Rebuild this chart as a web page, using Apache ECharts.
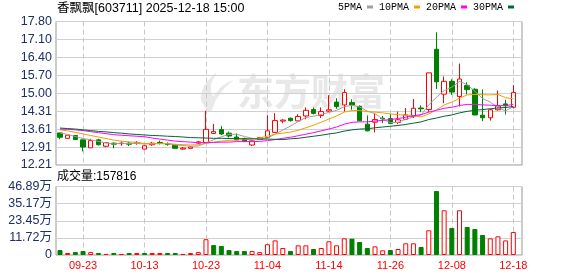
<!DOCTYPE html>
<html><head><meta charset="utf-8">
<script src="https://cdn.jsdelivr.net/npm/echarts@6/dist/echarts.min.js"></script>
<style>html,body{margin:0;padding:0;background:#fff}#c{width:578px;height:276px}</style>
</head><body><div id="c"></div>
<script>
const dates = ['09-18','09-19','09-22','09-23','09-24','09-25','09-26','09-29','09-30','10-09',
 '10-10','10-13','10-14','10-15','10-16','10-17','10-20','10-21','10-22','10-23',
 '10-24','10-27','10-28','10-29','10-30','10-31','11-03','11-04','11-05','11-06',
 '11-07','11-10','11-11','11-12','11-13','11-14','11-17','11-18','11-19','11-20',
 '11-21','11-24','11-25','11-26','11-27','11-28','12-01','12-02','12-03','12-04',
 '12-05','12-08','12-09','12-10','12-11','12-12','12-15','12-16','12-17','12-18'];
const opens = [13.46,13.25,13.36,13.19,12.88,13.19,12.94,13.06,13.04,13.06,13.05,12.83,13.00,13.09,13.04,12.99,12.83,12.86,13.06,13.09,
 13.44,13.59,13.45,13.30,13.24,12.99,13.21,13.28,13.48,13.92,14.03,13.93,14.12,14.37,14.14,14.31,14.66,14.55,14.64,14.49,
 13.80,13.88,14.03,14.02,13.87,13.99,14.10,14.43,14.37,16.72,14.97,15.47,14.88,15.31,15.16,14.15,14.05,14.36,14.59,14.46];
const closes = [13.29,13.37,13.20,12.91,13.16,13.00,13.08,13.02,13.06,13.02,13.09,12.96,13.06,13.07,13.01,12.86,12.87,12.91,13.11,13.60,
 13.51,13.42,13.34,13.19,13.14,13.15,13.28,13.54,13.94,13.96,13.94,14.10,14.34,14.22,14.29,14.36,14.49,15.03,14.55,13.93,
 13.54,13.98,14.01,13.83,13.97,14.16,14.42,14.40,15.80,15.45,15.47,15.05,15.56,15.15,14.16,14.05,14.36,14.51,14.52,15.03];
const lows = [13.21,13.24,13.18,12.74,12.87,12.97,12.90,12.86,12.96,12.95,13.00,12.82,12.96,13.01,12.96,12.85,12.80,12.85,13.04,13.05,
 13.42,13.38,13.28,13.17,13.12,12.95,13.20,13.26,13.46,13.84,13.90,13.92,13.99,14.18,14.04,14.29,14.40,14.29,14.36,13.92,
 13.52,13.48,13.84,13.80,13.80,13.97,14.04,14.27,14.27,15.17,14.62,14.94,14.49,14.96,14.15,13.92,13.94,14.33,14.18,14.41];
const highs = [13.46,13.37,13.37,13.19,13.23,13.23,13.10,13.09,13.13,13.11,13.14,12.99,13.11,13.16,13.09,13.01,12.91,12.94,13.15,14.32,
 13.81,13.72,13.51,13.44,13.27,13.17,13.30,14.15,14.23,13.99,14.06,14.19,14.45,14.45,14.45,14.93,14.81,15.16,14.77,14.53,
 14.14,14.23,14.12,14.19,14.29,14.43,14.78,14.53,15.80,17.38,15.66,15.55,16.16,15.43,15.20,15.15,14.40,15.11,14.75,15.32];
const volumes = [34000,14000,20000,27000,20000,14000,7000,14000,7000,14000,14000,14000,14000,14000,14000,14000,7000,14000,20000,108000,
 68000,62000,34000,27000,27000,27000,20000,74000,100000,48000,27000,66000,66000,41000,48000,94000,66000,114000,112000,89000,
 48000,59000,32000,34000,41000,80000,80000,55000,169000,438000,306000,185000,306000,192000,178000,137000,114000,128000,100000,157816];
const ma5 = [13.46,13.40,13.32,13.24,13.19,13.13,13.07,13.03,13.06,13.04,13.05,13.03,13.04,13.04,13.04,12.99,12.97,12.94,12.95,13.07,
 13.20,13.31,13.40,13.41,13.32,13.25,13.22,13.26,13.41,13.57,13.73,13.90,14.06,14.11,14.18,14.26,14.34,14.48,14.54,14.47,
 14.31,14.21,14.00,13.86,13.87,13.99,14.08,14.16,14.55,14.85,15.11,15.24,15.47,15.34,15.08,14.80,14.66,14.45,14.32,14.49];
const ma10 = [13.58,13.54,13.48,13.42,13.36,13.30,13.24,13.18,13.14,13.11,13.09,13.05,13.04,13.05,13.04,13.02,13.00,12.99,13.00,13.05,
 13.10,13.14,13.17,13.18,13.20,13.22,13.27,13.33,13.41,13.45,13.49,13.56,13.66,13.76,13.88,14.00,14.12,14.27,14.33,14.33,
 14.29,14.27,14.24,14.20,14.17,14.15,14.14,14.08,14.20,14.36,14.55,14.66,14.81,14.94,14.96,14.95,14.94,14.96,14.83,14.79];
const ma20 = [13.61,13.60,13.58,13.55,13.51,13.47,13.43,13.39,13.37,13.35,13.33,13.31,13.26,13.22,13.18,13.14,13.12,13.10,13.08,13.08,
 13.09,13.10,13.10,13.12,13.12,13.12,13.13,13.16,13.20,13.25,13.29,13.35,13.41,13.47,13.54,13.61,13.69,13.80,13.87,13.89,
 13.89,13.92,13.95,13.98,14.02,14.07,14.13,14.17,14.27,14.34,14.42,14.46,14.53,14.57,14.57,14.55,14.54,14.52,14.52,14.57];
const ma30 = [13.65,13.63,13.61,13.58,13.55,13.52,13.50,13.47,13.45,13.42,13.40,13.38,13.36,13.35,13.33,13.32,13.30,13.28,13.27,13.26,
 13.25,13.25,13.24,13.24,13.23,13.23,13.22,13.22,13.21,13.20,13.23,13.25,13.29,13.33,13.37,13.42,13.46,13.53,13.58,13.61,
 13.62,13.66,13.69,13.72,13.75,13.79,13.84,13.89,13.98,14.04,14.11,14.16,14.24,14.30,14.34,14.37,14.40,14.43,14.45,14.49];
const priceTicks = ['12.21','12.91','13.61','14.31','15.00','15.70','16.40','17.10','17.80'];
const volTicks = ['0','11.72万','23.45万','35.17万','46.89万'];
const dateTicks = ['09-23','10-13','10-23','11-04','11-14','11-26','12-08','12-18'];
const volMaxValue = 468900;
const titleText = '香飘飘[603711] 2025-12-18 15:00';
const volTitle = '成交量:157816';

const UP = '#ff0000', DOWN = '#008000';
const priceMin = parseFloat(priceTicks[0]), priceMax = parseFloat(priceTicks[priceTicks.length-1]);
const kData = opens.map((o,i)=>[o, closes[i], lows[i], highs[i]]);
const volData = volumes.map((v,i)=>{
  const up = i>0 && closes[i] >= closes[i-1];
  return {value: v, itemStyle: up ? {color:'#ffffff', borderColor: UP, borderWidth:1}
                                  : {color: DOWN, borderColor: DOWN, borderWidth:1}};
});
const isTick = (idx)=> dateTicks.indexOf(dates[idx]) >= 0;

const PL = 56, PW = 466, DL = 60, DW = 453.3;
const PT = 21.5, PH = 143.5, VT = 186.5, VH = 68.5;
const labelFont = {fontFamily:'Liberation Sans, Noto Sans CJK SC', fontSize:12.5, color:'#1e2e66'};
const dashed = {show:true, interval:(i)=>isTick(i), lineStyle:{color:'#c8c8c8', type:[5,3], width:1}};

const chart = echarts.init(document.getElementById('c'), null, {renderer:'canvas'});
chart.setOption({
  animation:false,
  backgroundColor:'#ffffff',
  title:{text:titleText, left:57, top:1, padding:0,
    textStyle:{fontFamily:'Liberation Sans, Noto Sans CJK SC', fontSize:12.5, fontWeight:'normal', color:'#000', lineHeight:15}},
  legend:{data:['5PMA','10PMA','20PMA','30PMA'], left:338, top:2, padding:0, align:'right', icon:'rect',
    itemWidth:6, itemHeight:3, itemGap:6, selectedMode:false,
    textStyle:{fontFamily:'Liberation Mono', fontSize:10, color:'#000'}},
  graphic:[
    {type:'polygon', z:-1, silent:true,
     shape:{points:[[216,73],[204,86],[201,100],[210,112],[216,100],[224,89],[233,80],[222,86],[213,96],[211,85]], smooth:0.3},
     style:{fill:'#e9e9e9'}},
    {type:'text', left:237, top:73, z:-1, silent:true,
     style:{text:'东方财富', fontFamily:'Noto Sans CJK SC', fontWeight:'bold', fontSize:37, fill:'#e8e8e8'}},
    {type:'text', left:PL+1, top:171, silent:true,
     style:{text:volTitle, fontFamily:'Liberation Sans, Noto Sans CJK SC', fontSize:12, fill:'#000'}}
  ],
  grid:[
    {left:PL, top:PT, width:PW, height:PH, show:true, borderColor:'#999', borderWidth:1, backgroundColor:'transparent'},
    {left:DL, top:PT, width:DW, height:PH},
    {left:PL, top:VT, width:PW, height:VH, show:true, borderColor:'#999', borderWidth:1, backgroundColor:'transparent'},
    {left:DL, top:VT, width:DW, height:VH}
  ],
  xAxis:[
    {type:'value', gridIndex:0, min:0, max:1, show:false},
    {type:'category', gridIndex:1, data:dates, boundaryGap:false, axisLine:{show:false}, axisTick:{show:false},
     axisLabel:{show:false}, splitLine:dashed},
    {type:'value', gridIndex:2, min:0, max:1, show:false},
    {type:'category', gridIndex:3, data:dates, boundaryGap:false, axisLine:{show:false}, axisTick:{show:false},
     axisLabel:{show:true, interval:(i)=>isTick(i), margin:5, color:UP, fontFamily:'Liberation Sans', fontSize:11},
     splitLine:dashed}
  ],
  yAxis:[
    {type:'value', gridIndex:0, min:0, max:priceTicks.length-1, interval:1,
     axisLine:{show:false}, axisTick:{show:false},
     axisLabel:Object.assign({margin:4, formatter:(v)=>priceTicks[Math.round(v)]}, labelFont),
     splitLine:{show:true, lineStyle:{color:'#d0d0d0', width:1}}},
    {type:'value', gridIndex:1, min:priceMin, max:priceMax, show:false, splitLine:{show:false}},
    {type:'value', gridIndex:2, min:0, max:volMaxValue, interval:volMaxValue/(volTicks.length-1),
     axisLine:{show:false}, axisTick:{show:false},
     axisLabel:Object.assign({margin:4, formatter:(v)=>volTicks[Math.round(v/(volMaxValue/(volTicks.length-1)))]}, labelFont),
     splitLine:{show:true, lineStyle:{color:'#d0d0d0', width:1}}},
    {type:'value', gridIndex:3, min:0, max:volMaxValue, show:false, splitLine:{show:false}}
  ],
  series:[
    {type:'candlestick', name:'K', xAxisIndex:1, yAxisIndex:1, data:kData, barWidth:5, clip:false,
     itemStyle:{color:'#ffffff', color0:DOWN, borderColor:UP, borderColor0:DOWN, borderWidth:1}},
    {type:'line', name:'5PMA', xAxisIndex:1, yAxisIndex:1, data:ma5, symbol:'none', smooth:false,
     lineStyle:{color:'#a0a0a0', width:1}, itemStyle:{color:'#a0a0a0'}, z:3},
    {type:'line', name:'10PMA', xAxisIndex:1, yAxisIndex:1, data:ma10, symbol:'none',
     lineStyle:{color:'#f0a000', width:1}, itemStyle:{color:'#f0a000'}, z:3},
    {type:'line', name:'20PMA', xAxisIndex:1, yAxisIndex:1, data:ma20, symbol:'none',
     lineStyle:{color:'#ff00ff', width:1}, itemStyle:{color:'#ff00ff'}, z:3},
    {type:'line', name:'30PMA', xAxisIndex:1, yAxisIndex:1, data:ma30, symbol:'none',
     lineStyle:{color:'#006633', width:1}, itemStyle:{color:'#006633'}, z:3},
    {type:'bar', name:'VOL', xAxisIndex:3, yAxisIndex:3, data:volData, barWidth:5, clip:false}
  ]
});
</script></body></html>
